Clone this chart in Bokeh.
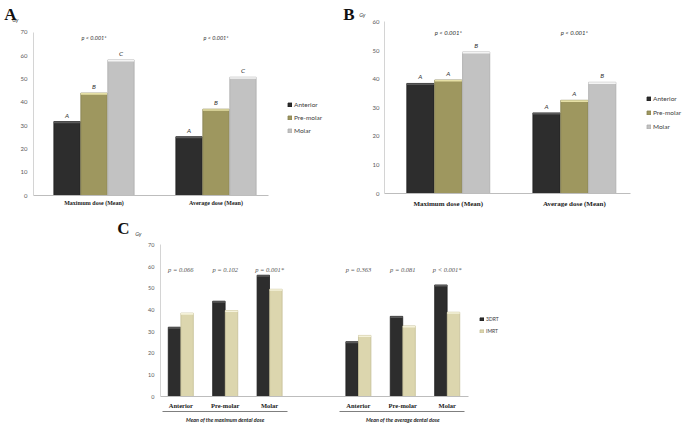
from bokeh.plotting import figure
from bokeh.models import (ColumnDataSource, Range1d, Legend, LegendItem, FixedTicker,
                          SingleIntervalTicker, LinearAxis, Spacer)
from bokeh.transform import dodge
from bokeh.layouts import column, row
from bokeh.embed import file_html
from bokeh.resources import INLINE
from bokeh.core.properties import value

# ---------------- data ----------------
regions = ["Anterior", "Pre-molar", "Molar"]
groups_ab = ["Maximum dose (Mean)", "Average dose (Mean)"]

a_anterior = [31.7, 25.2]
a_premolar = [43.9, 37.0]
a_molar = [58.1, 50.7]
a_letters_anterior = ["A", "A"]
a_letters_premolar = ["B", "B"]
a_letters_molar = ["C", "C"]
a_pvalues = ["p < 0.001*", "p < 0.001*"]

b_anterior = [38.5, 28.2]
b_premolar = [39.7, 32.6]
b_molar = [49.5, 38.9]
b_letters_anterior = ["A", "A"]
b_letters_premolar = ["A", "A"]
b_letters_molar = ["B", "B"]
b_pvalues = ["p < 0.001*", "p < 0.001*"]

c_groups = ["Mean of the maximum dental dose", "Mean of the average dental dose"]
c_series = ["3DRT", "IMRT"]
c_3drt = [32.0, 44.0, 56.0, 25.3, 37.0, 51.5]
c_imrt = [38.5, 39.7, 49.5, 28.2, 32.6, 38.9]
c_pvalues = ["p = 0.066", "p = 0.102", "p = 0.001*", "p = 0.363", "p = 0.081", "p < 0.001*"]

# ---------------- styling ----------------
COL = {"Anterior": ("#2d2d2d", "#5a5a5a", "#1e1e1e"),
       "Pre-molar": ("#9e975f", "#e6e0a6", "#878150"),
       "Molar": ("#c2c2c2", "#f4f4f4", "#adadad"),
       "3DRT": ("#2d2d2d", "#5a5a5a", "#1e1e1e"),
       "IMRT": ("#dcd6ae", "#f5f2da", "#c5bf97")}
AX = "#d4d4d4"
TICK = "#595959"
SANS = "Lato"
SERIF = "Liberation Serif"


def no_ticks(ax):
    ax.major_tick_line_color = None
    ax.minor_tick_line_color = None
    ax.major_tick_out = 0
    ax.major_tick_in = 0
    ax.minor_tick_out = 0
    ax.minor_tick_in = 0


def no_frame_align(p):
    try:
        p.frame_align = False
    except Exception:
        pass


def base_axes(p, tick_size, standoff_y, ymax_axis):
    p.outline_line_color = None
    p.xgrid.grid_line_color = None
    p.ygrid.grid_line_color = None
    p.xaxis.axis_line_color = "#bdbdbd"
    p.yaxis.axis_line_color = AX
    no_ticks(p.xaxis[0])
    no_ticks(p.yaxis[0])
    p.yaxis.ticker = SingleIntervalTicker(interval=10)
    p.yaxis.bounds = (0, ymax_axis)
    p.yaxis.major_label_text_font = SANS
    p.yaxis.major_label_text_font_size = tick_size
    p.yaxis.major_label_text_color = TICK
    p.yaxis.major_label_standoff = standoff_y


def side_text_axis(p, y, text, font, size, style, color, standoff):
    ax = LinearAxis(ticker=FixedTicker(ticks=[y]), major_label_overrides={y: text},
                    axis_line_color=None, major_label_standoff=standoff,
                    major_label_text_font=font, major_label_text_font_size=size,
                    major_label_text_font_style=style, major_label_text_color=color)
    no_ticks(ax)
    p.add_layout(ax, "left")


def panel_ab(width, height, frame_left, x0px, unit_px, axis_right_px, y0px, ytop_px, ymax_axis,
             series, letters, pvals, p_y, tag, tag_y, tag_standoff, gy_y, gy_standoff,
             cat_size, cat_standoff, p_size, tick_standoff, leg_loc, leg_h, leg_sp, leg_size):
    # x in group units: 0 and 1 are the group centres; y in Gy
    x_start = (frame_left - x0px) / unit_px
    x_end = (width - x0px) / unit_px
    px_per_gy = (y0px - ytop_px) / ymax_axis
    y_end = y0px / px_per_gy
    p = figure(width=width, height=height, x_range=Range1d(x_start, x_end),
               y_range=Range1d(0, y_end), output_backend="svg", toolbar_location=None,
               min_border_left=frame_left, min_border_right=0, min_border_top=0,
               min_border_bottom=height - y0px)
    no_frame_align(p)
    base_axes(p, "6px", tick_standoff, ymax_axis)
    slots = list(range(len(groups_ab)))
    p.xaxis.ticker = FixedTicker(ticks=slots)
    p.xaxis.major_label_overrides = {s: g for s, g in zip(slots, groups_ab)}
    p.xaxis.bounds = (x_start, (axis_right_px - x0px) / unit_px)
    p.xaxis.major_label_text_font = SERIF
    p.xaxis.major_label_text_font_style = "bold"
    p.xaxis.major_label_text_font_size = cat_size
    p.xaxis.major_label_text_color = "#222222"
    p.xaxis.major_label_standoff = cat_standoff

    side_text_axis(p, gy_y / px_per_gy, "Gy", SANS, "5.5px", "italic", "#444444", gy_standoff)
    side_text_axis(p, tag_y / px_per_gy, tag, SERIF, "17px", "bold", "#111111", tag_standoff)

    cap = 1.6 / px_per_gy
    src = ColumnDataSource(dict(slot=slots, v0=series[0], v1=series[1], v2=series[2],
                                l0=letters[0], l1=letters[1], l2=letters[2], pv=pvals))
    items = []
    w = 0.216
    for i, (name, off) in enumerate(zip(regions, (-0.221, 0.0, 0.221))):
        fill, capc, edge = COL[name]
        r = p.vbar(x=dodge("slot", off), top="v%d" % i, width=w, source=src,
                   fill_color=fill, line_color=edge, line_width=0.8)
        vals = series[i]
        capsrc = ColumnDataSource(dict(slot=slots, top=vals, bottom=[v - cap for v in vals]))
        p.vbar(x=dodge("slot", off), top="top", bottom="bottom", width=w, source=capsrc,
               fill_color=capc, line_color=None)
        p.text(x=dodge("slot", off), y="v%d" % i, text="l%d" % i, source=src,
               text_align="center", text_baseline="bottom", y_offset=-3,
               text_font=value(SANS), text_font_style="italic", text_font_size="6.5px",
               text_color="#333333")
        items.append(LegendItem(label=name, renderers=[r]))

    p.text(x="slot", y=p_y, text="pv", source=src, text_align="center", text_baseline="middle",
           text_font=value(SANS), text_font_style="italic", text_font_size=p_size,
           text_color="#333333")

    leg = Legend(items=items, location=leg_loc, border_line_color=None,
                 background_fill_alpha=0, padding=0, margin=0, glyph_width=5, glyph_height=5,
                 label_height=leg_h, label_width=10, spacing=leg_sp, label_standoff=2,
                 label_text_font=SANS, label_text_font_size=leg_size,
                 label_text_color="#404040")
    p.add_layout(leg)
    return p


# panel A: axis at x=33, group centres at 93.5 / 215.5, zero line at y=195, 70 at y=31.7
# (tag_y / gy_y are pixel heights above the zero line)
pA = panel_ab(340, 210, 33, 93.5, 122.0, 268, 195, 31.7, 70,
              (a_anterior, a_premolar, a_molar),
              (a_letters_anterior, a_letters_premolar, a_letters_molar), a_pvalues, 67.3,
              "A", 190.0, -7, 176.0, -1, "6px", 4, "5.5px", 6, (254, 60), 9, 4, "6.5px")
# panel B (canvas starts at x=340): axis at 43, group centres at 107 / 233.5
pB = panel_ab(344, 210, 43, 107.0, 126.5, 290, 195, 21.7, 60,
              (b_anterior, b_premolar, b_molar),
              (b_letters_anterior, b_letters_premolar, b_letters_molar), b_pvalues, 56.4,
              "B", 190.0, 2, 180.0, 4, "7px", 6, "6px", 5, (262, 62), 9, 5, "6.5px")

# ---------------- panel C ----------------
# canvas origin at page (110, 210); axis at x=50, slot 0 at x=70.3, slot pitch 44.4 px
C_W, C_H = 574, 215
C_LEFT, C_X0, C_UNIT, C_AXR = 50, 70.3, 44.4, 358
C_Y0, C_YTOP = 189.3, 35.0
slots = [gi * 4 + ci for gi in range(len(c_groups)) for ci in range(len(regions))]
cats = [r for g in c_groups for r in regions]
centers = [gi * 4 + (len(regions) - 1) / 2 for gi in range(len(c_groups))]

cx0 = (C_LEFT - C_X0) / C_UNIT
cx1 = (C_W - C_X0) / C_UNIT
c_pxgy = (C_Y0 - C_YTOP) / 70
pC = figure(width=C_W, height=C_H, x_range=Range1d(cx0, cx1), y_range=Range1d(0, C_Y0 / c_pxgy),
            output_backend="svg", toolbar_location=None,
            min_border_left=C_LEFT, min_border_right=0, min_border_top=0,
            min_border_bottom=C_H - int(C_Y0))
no_frame_align(pC)
base_axes(pC, "5.5px", 6, 70)
pC.xaxis.ticker = FixedTicker(ticks=slots)
pC.xaxis.major_label_overrides = {s: c for s, c in zip(slots, cats)}
pC.xaxis.bounds = (cx0, (C_AXR - C_X0) / C_UNIT)
pC.xaxis.major_label_text_font = SERIF
pC.xaxis.major_label_text_font_style = "bold"
pC.xaxis.major_label_text_font_size = "6.5px"
pC.xaxis.major_label_text_color = "#222222"
pC.xaxis.major_label_standoff = 5

half = 1.41
seg = 2 * half * C_UNIT
gap = (centers[1] - centers[0] - 2 * half) * C_UNIT
gaxis = LinearAxis(ticker=FixedTicker(ticks=centers),
                   major_label_overrides={c: g for c, g in zip(centers, c_groups)},
                   bounds=(centers[0] - half, centers[-1] + half),
                   axis_line_color="#7f7f7f", axis_line_width=1,
                   axis_line_dash="%d %d" % (round(seg), round(gap)),
                   major_label_standoff=5, major_label_text_font=SANS,
                   major_label_text_font_style="bold italic", major_label_text_font_size="5.4px",
                   major_label_text_color="#222222")
no_ticks(gaxis)
pC.add_layout(gaxis, "below")

side_text_axis(pC, (C_Y0 - 24) / c_pxgy, "Gy", SANS, "5.5px", "italic", "#444444", 4)
side_text_axis(pC, (C_Y0 - 18.5) / c_pxgy, "C", SERIF, "17px", "bold", "#111111", 3)

csrc = ColumnDataSource(dict(slot=slots, d3=c_3drt, im=c_imrt, pv=c_pvalues))
cap = 1.6 / c_pxgy
citems = []
for name, col, vals, off in (("3DRT", "d3", c_3drt, -0.142), ("IMRT", "im", c_imrt, 0.142)):
    fill, capc, edge = COL[name]
    r = pC.vbar(x=dodge("slot", off), top=col, width=0.28, source=csrc,
                fill_color=fill, line_color=edge, line_width=0.8)
    capsrc = ColumnDataSource(dict(slot=slots, top=vals, bottom=[v - cap for v in vals]))
    pC.vbar(x=dodge("slot", off), top="top", bottom="bottom", width=0.28, source=capsrc,
            fill_color=capc, line_color=None)
    citems.append(LegendItem(label=name, renderers=[r]))

pC.text(x="slot", y=58.7, text="pv", source=csrc, text_align="center", text_baseline="middle",
        text_font=value(SERIF), text_font_style="italic", text_font_size="6.5px",
        text_color="#555555")

cleg = Legend(items=citems, location=(319, 61), border_line_color=None,
              background_fill_alpha=0, padding=0, margin=0, glyph_width=5, glyph_height=4,
              label_height=8, label_width=10, spacing=4, label_standoff=2,
              label_text_font=SANS, label_text_font_size="5px", label_text_color="#404040")
pC.add_layout(cleg)

layout = column(row(pA, pB), row(Spacer(width=110, height=C_H), pC))
open("out.html", "w").write(file_html(layout, INLINE))
